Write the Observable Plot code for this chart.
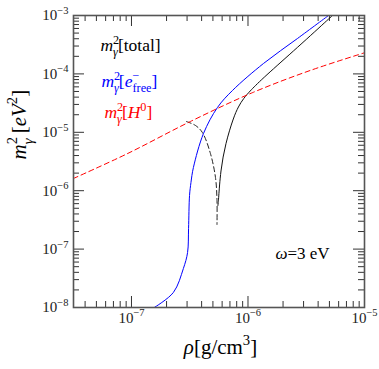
<!DOCTYPE html>
<html><head><meta charset="utf-8">
<script src="https://cdn.jsdelivr.net/npm/d3@7"></script>
<script src="https://cdn.jsdelivr.net/npm/@observablehq/plot@0.6"></script>
<style>body{margin:0;background:#fff;} svg{display:block;} svg text, svg tspan{font-family:'Liberation Serif','Times New Roman',serif;}</style>
</head><body><div id="chart"></div>
<script>
// ---- data ----
const rhoH0 = [3.18e-8, 9.2e-8, 3.2e-7, 1.1e-6, 3.4e-6, 1e-5];
const mH0   = [1.62e-6, 4.3e-6, 1.53e-5, 4.8e-5, 1.14e-4, 2.3e-4];

const rhoFree = [1.57e-7, 2.29e-7, 2.79e-7, 3.03e-7, 3.09e-7, 3.15e-7, 3.24e-7, 3.40e-7, 4.15e-7, 5.47e-7, 7.36e-7, 1.36e-6, 2.66e-6, 4.91e-6];
const mFree   = [1e-8, 1.81e-8, 4.66e-8, 8.75e-8, 2.25e-7, 8.28e-7, 1.38e-6, 2.49e-6, 9.53e-6, 2.66e-5, 5.2e-5, 1.51e-4, 4.04e-4, 1e-3];

const rhoTotal = [5.52e-7, 5.55e-7, 5.58e-7, 5.81e-7, 6.41e-7, 7.50e-7, 8.28e-7, 9.14e-7, 1.05e-6, 1.36e-6, 2.66e-6, 5.31e-6, 5.31e-6];
const mTotal   = [5.58e-7, 6.2e-7, 6.79e-7, 2.22e-6, 6.43e-6, 1.79e-5, 2.77e-5, 3.79e-5, 5.2e-5, 8.67e-5, 2.83e-4, 1e-3, 1e-3];

const rhoNeg = [2.96e-7, 3.54e-7, 4.06e-7, 4.76e-7, 5.26e-7, 5.42e-7, 5.42e-7];
const mNeg   = [1.53e-5, 1.31e-5, 9.93e-6, 4.34e-6, 1.68e-6, 6.79e-7, 2.64e-7];

const xMajor = [1e-7, 1e-6, 1e-5];
const xTickLabels = ["10^{−7}", "10^{−6}", "10^{−5}"];
const xMinor = [4e-8,5e-8,6e-8,7e-8,8e-8,9e-8, 2e-7,3e-7,4e-7,5e-7,6e-7,7e-7,8e-7,9e-7, 2e-6,3e-6,4e-6,5e-6,6e-6,7e-6,8e-6,9e-6];
const yMajor = [1e-8, 1e-7, 1e-6, 1e-5, 1e-4, 1e-3];
const yTickLabels = ["10^{−8}", "10^{−7}", "10^{−6}", "10^{−5}", "10^{−4}", "10^{−3}"];
const yMinor = [2e-8,3e-8,4e-8,5e-8,6e-8,7e-8,8e-8,9e-8, 2e-7,3e-7,4e-7,5e-7,6e-7,7e-7,8e-7,9e-7,
                2e-6,3e-6,4e-6,5e-6,6e-6,7e-6,8e-6,9e-6, 2e-5,3e-5,4e-5,5e-5,6e-5,7e-5,8e-5,9e-5,
                2e-4,3e-4,4e-4,5e-4,6e-4,7e-4,8e-4,9e-4];

const seriesLabels = ["*m*^{2}_{*γ*}[total]", "*m*^{2}_{*γ*}[*e*^{−}_{free}]", "*m*^{2}_{*γ*}[*H*^{0}]"];
const seriesColors = ["black", "blue", "red"];
const labelX = [5.42e-8, 5.52e-8, 5.86e-8];
const labelY = [3.06e-4, 7.41e-5, 2.18e-5];
const noteLabel = "*ω*=3 eV";
const noteX = 1.72e-6, noteY = 8.41e-8;
const xLabel = "*ρ*[g/cm^{3}]";
const yLabel = "*m*^{2}_{*γ*} [*eV*^{2}]";

// ---- layout ----
const W = 379, H = 369, mL = 73, mR = 15, mT = 15, mB = 62;
const FW = W - mL - mR, FH = H - mT - mB;
const serif = "'Liberation Serif', 'Times New Roman', serif";
const tickC = "#333";

const zip = (xs, ys) => xs.map((x, i) => ({x, y: ys[i]}));

const chart = Plot.plot({
  width: W, height: H,
  marginLeft: mL, marginRight: mR, marginTop: mT, marginBottom: mB,
  style: {fontFamily: serif, background: "white"},
  x: {type: "log", domain: [3.18e-8, 1e-5], axis: null},
  y: {type: "log", domain: [1e-8, 1e-3], axis: null},
  marks: [
    // ticks (inward, all four sides)
    Plot.tickX(xMajor, {x: d => d, insetTop: FH - 11, stroke: tickC}),
    Plot.tickX(xMajor, {x: d => d, insetBottom: FH - 11, stroke: tickC}),
    Plot.tickX(xMinor, {x: d => d, insetTop: FH - 6, stroke: tickC}),
    Plot.tickX(xMinor, {x: d => d, insetBottom: FH - 6, stroke: tickC}),
    Plot.tickY(yMajor, {y: d => d, insetRight: FW - 11, stroke: tickC}),
    Plot.tickY(yMajor, {y: d => d, insetLeft: FW - 11, stroke: tickC}),
    Plot.tickY(yMinor, {y: d => d, insetRight: FW - 6, stroke: tickC}),
    Plot.tickY(yMinor, {y: d => d, insetLeft: FW - 6, stroke: tickC}),
    // curves
    Plot.line(zip(rhoNeg, mNeg), {x: "x", y: "y", stroke: "#222", strokeWidth: 1, strokeDasharray: "5,3", curve: "catmull-rom", clip: true}),
    Plot.line(zip(rhoFree, mFree), {x: "x", y: "y", stroke: "blue", strokeWidth: 1, curve: "catmull-rom", clip: true}),
    Plot.line(zip(rhoTotal, mTotal), {x: "x", y: "y", stroke: "#111", strokeWidth: 1, curve: "basis", clip: true}),
    Plot.line(zip(rhoH0, mH0), {x: "x", y: "y", stroke: "red", strokeWidth: 1, strokeDasharray: "5,3.5", curve: "catmull-rom", clip: true}),
    Plot.frame({stroke: "#555", strokeWidth: 1.6}),
    // tick labels
    Plot.text(xMajor, {x: d => d, text: (d, i) => xTickLabels[i], frameAnchor: "bottom", dy: 15, fontSize: 15, fontFamily: serif, fill: "#222"}),
    Plot.text(yMajor, {y: d => d, text: (d, i) => yTickLabels[i], frameAnchor: "left", dx: -5, textAnchor: "end", fontSize: 15, fontFamily: serif, fill: "#222"}),
    // series labels
    ...seriesLabels.map((s, i) => Plot.text([s], {x: () => labelX[i], y: () => labelY[i], text: d => d, textAnchor: "start", fontSize: 17.5, fontFamily: serif, fill: seriesColors[i]})),
    Plot.text([noteLabel], {x: () => noteX, y: () => noteY, text: d => d, textAnchor: "start", fontSize: 17, fontFamily: serif, fill: "black"}),
    // axis titles
    Plot.text([xLabel], {text: d => d, frameAnchor: "bottom", dy: 46, dx: 1.5, fontSize: 21, fontFamily: serif, fill: "black"}),
    Plot.text([yLabel], {text: d => d, frameAnchor: "left", dx: -54, dy: -2, rotate: -90, fontSize: 21, fontFamily: serif, fill: "black"})
  ]
});
document.getElementById("chart").appendChild(chart);

// ---- rich text (super/subscripts, italics) ----
function parseMarkup(str) {
  const re = /(\^\{[^}]*\}|_\{[^}]*\}|\*[^*]*\*|[^\^_*]+)/g;
  const segs = []; let m; let prevSup = false;
  while ((m = re.exec(str))) {
    let tok = m[1], p = null, it = false, back = false;
    if (tok.startsWith("^{")) { p = "sup"; tok = tok.slice(2, -1); }
    else if (tok.startsWith("_{")) { p = "sub"; tok = tok.slice(2, -1); back = prevSup; }
    if (tok.startsWith("*") && tok.endsWith("*") && tok.length > 1) { it = true; tok = tok.slice(1, -1); }
    segs.push({t: tok, p, it, back});
    prevSup = p === "sup";
  }
  return segs;
}
function richify(el) {
  const raw = el.textContent;
  if (!/[\^_*]/.test(raw)) return;
  const fs = parseFloat(getComputedStyle(el).fontSize) || 15;
  const segs = parseMarkup(raw);
  while (el.firstChild) el.removeChild(el.firstChild);
  let cur = 0, prev = null;
  for (const s of segs) {
    const ts = document.createElementNS("http://www.w3.org/2000/svg", "tspan");
    const target = s.p === "sup" ? -0.42 * fs : s.p === "sub" ? 0.3 * fs : 0;
    if (target !== cur) ts.setAttribute("dy", (target - cur).toFixed(2));
    cur = target;
    if (s.p) ts.setAttribute("font-size", (fs * 0.7).toFixed(2));
    if (s.it) ts.setAttribute("font-style", "italic");
    ts.textContent = s.t;
    if (s.back && prev) ts.setAttribute("dx", (-prev.getComputedTextLength()).toFixed(2));
    el.appendChild(ts);
    prev = ts;
  }
}
chart.querySelectorAll("text").forEach(richify);
</script>
</body></html>
